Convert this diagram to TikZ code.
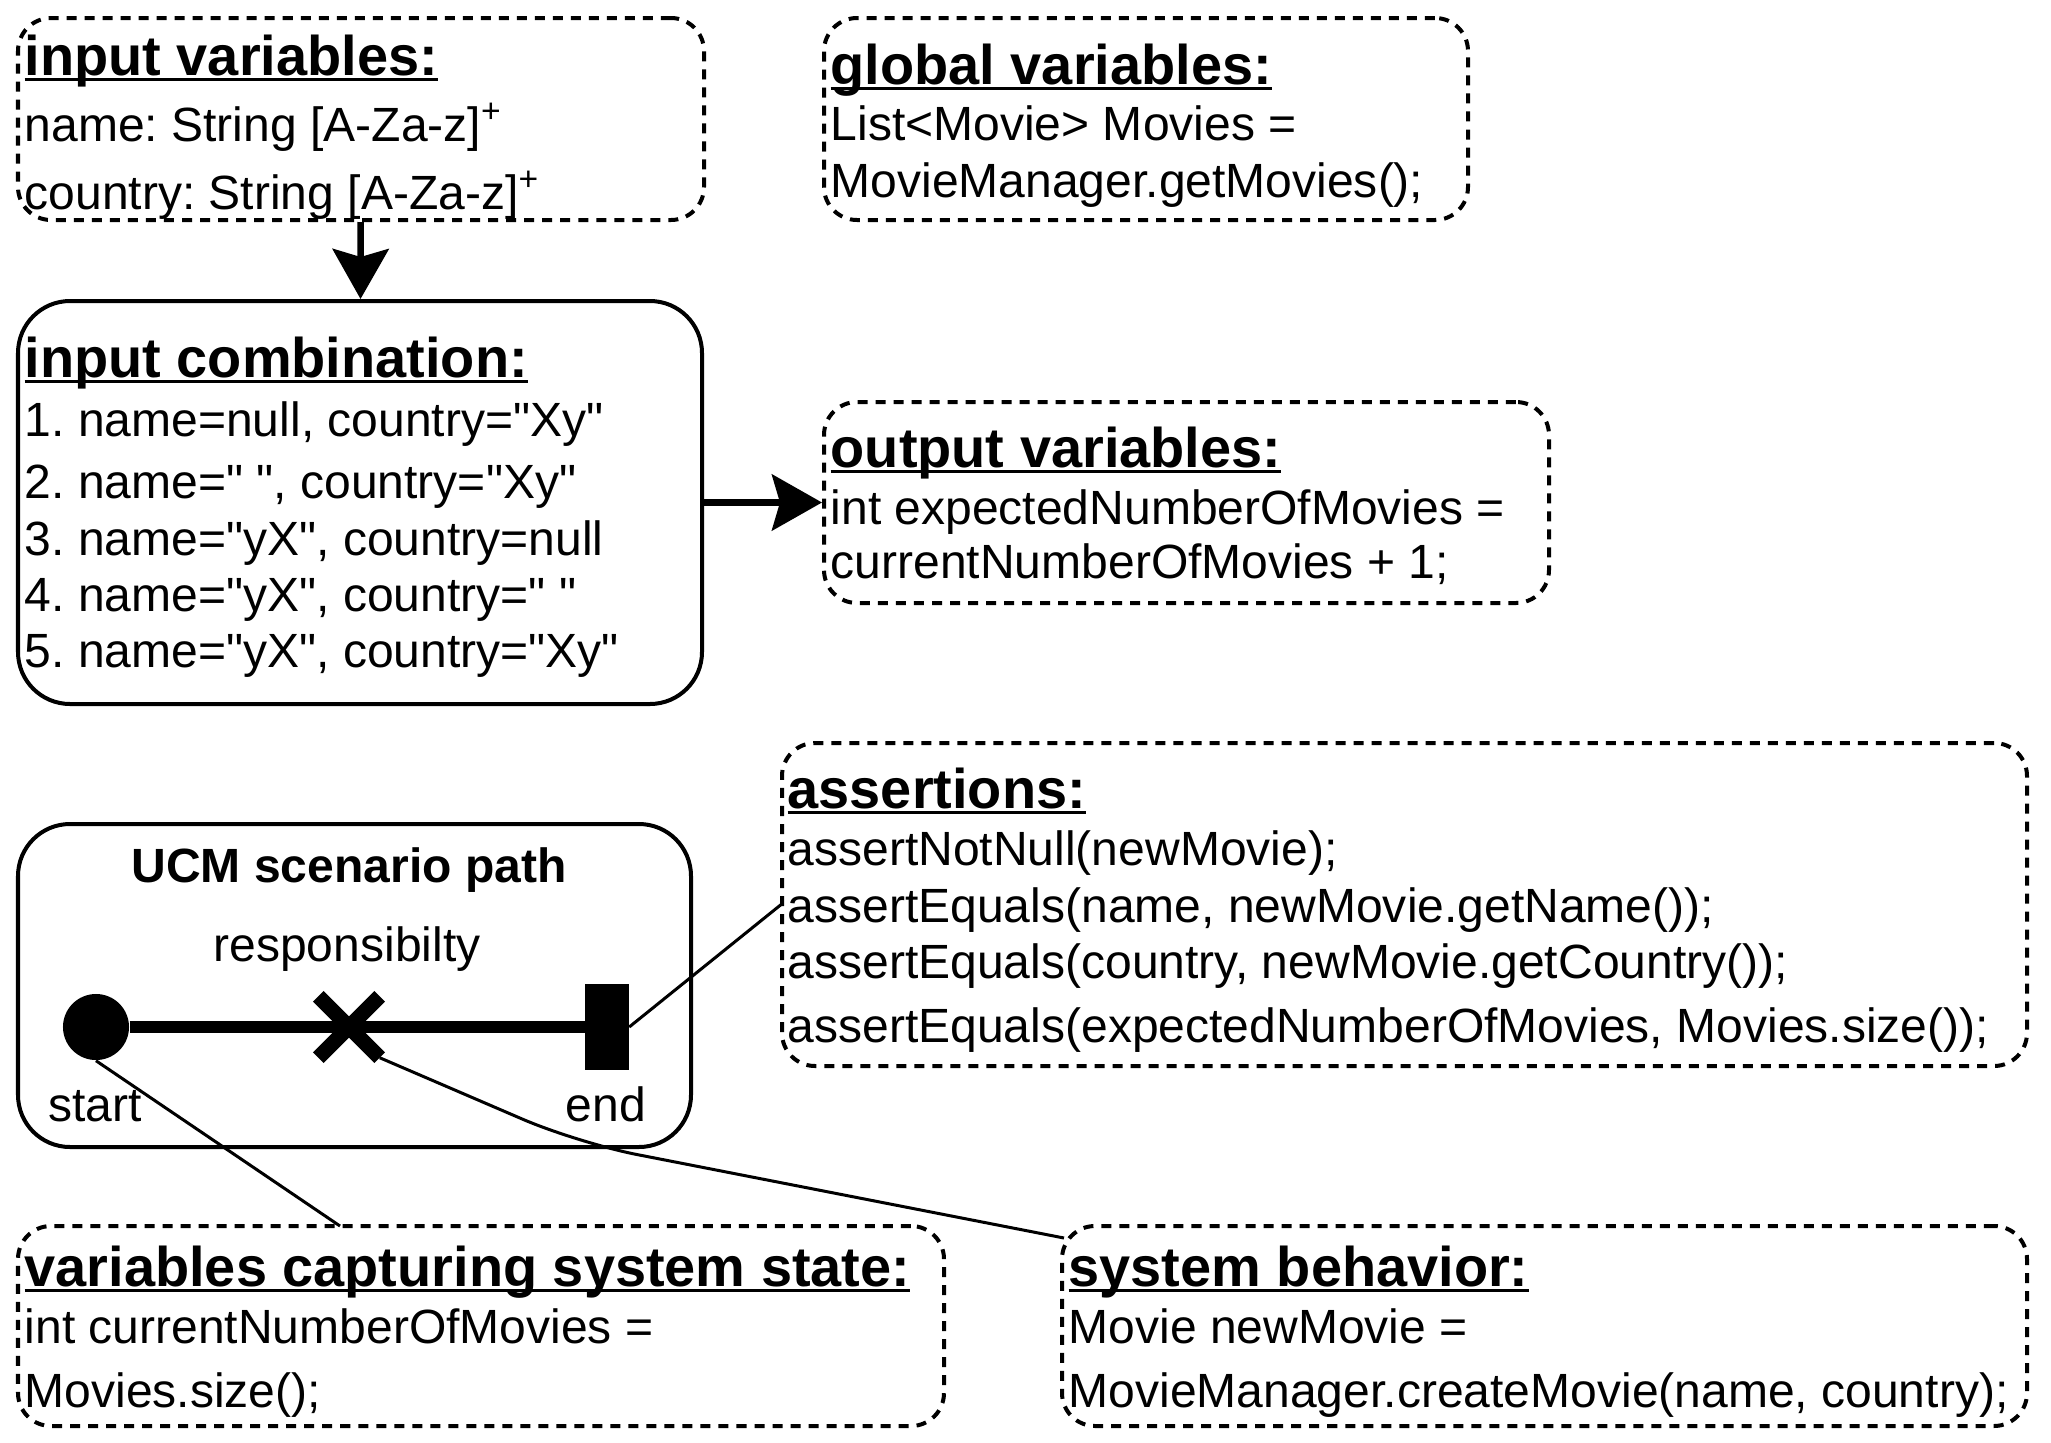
\documentclass[tikz,border=0pt]{standalone}
\usepackage{fontspec}
\setmainfont[Ligatures=TeXOff]{Liberation Sans}
\usetikzlibrary{arrows.meta,positioning,fit}
\newcommand{\bodyfont}{\fontsize{13.66pt}{16pt}\selectfont\frenchspacing}
\newcommand{\headfont}{\fontsize{15.9pt}{18pt}\selectfont\bfseries}
\newsavebox{\hdbox}
\newcommand{\hd}[1]{\sbox{\hdbox}{\headfont #1}\rlap{\rule[-0.13em]{\wd\hdbox}{0.07em}}\usebox{\hdbox}}
\tikzset{
  dbox/.style={draw, line width=0.04cm, dash pattern=on 0.1cm off 0.08cm,
               rounded corners=0.33cm, inner sep=0pt},
  sbox/.style={draw, line width=0.04cm, rounded corners=0.52cm, inner sep=0pt},
  txt/.style={anchor=base west, inner sep=0pt, font=\bodyfont},
  lbl/.style={anchor=base, inner sep=0pt, font=\bodyfont},
  flowarr/.style={-{Stealth[length=0.5cm, width=0.56cm, inset=0.08cm]}, line width=0.065cm},
  link/.style={line width=0.03cm},
  ucmpath/.style={line width=0.12cm},
  startpt/.style={circle, fill, minimum size=0.66cm, inner sep=0pt},
  endpt/.style={fill, minimum width=0.43cm, minimum height=0.85cm, inner sep=0pt},
  respx/.style={minimum size=0.6cm, inner sep=0pt},
  xbar/.style={line width=0.15cm},
}

\begin{document}
\begin{tikzpicture}[x=0.01cm, y=-0.01cm]
  \useasboundingbox (0,0) rectangle (2051,1442);

  % boxes
  \node[dbox, fit={(18,18) (704,220)}] (invars) {};
  \node[dbox, fit={(824,18) (1468,220)}] (globals) {};
  \node[sbox, fit={(18,301) (702,704)}] (combi) {};
  \node[dbox, fit={(824,402) (1549,603)}] (outvars) {};
  \node[dbox, fit={(782,743) (2027,1066)}] (asserts) {};
  \node[sbox, fit={(18,824) (691,1147)}] (ucm) {};
  \node[dbox, fit={(18,1226) (944,1426)}] (sysstate) {};
  \node[dbox, fit={(1062,1226) (2027,1426)}] (sysbeh) {};

  % input variables
  \node[txt] (invarsH) at (24,75) {\hd{input variables:}};
  \node[txt] (invars1) at (24,141) {name: String [A-Za-z]\textsuperscript{+}};
  \node[txt] (invars2) at (24,209) {country: String [A-Za-z]\textsuperscript{+}};

  % global variables
  \node[txt] (globalsH) at (830,84) {\hd{global variables:}};
  \node[txt] (globals1) at (830,140) {List<Movie> Movies =};
  \node[txt] (globals2) at (830,197) {MovieManager.getMovies();};

  % input combination
  \node[txt] (combiH) at (24,377) {\hd{input combination:}};
  \node[txt] (combi1) at (24,436) {1. name=null, country="Xy"};
  \node[txt] (combi2) at (24,498) {2. name=" ", country="Xy"};
  \node[txt] (combi3) at (24,555) {3. name="yX", country=null};
  \node[txt] (combi4) at (24,611) {4. name="yX", country=" "};
  \node[txt] (combi5) at (24,667) {5. name="yX", country="Xy"};

  % output variables
  \node[txt] (outvarsH) at (830,467) {\hd{output variables:}};
  \node[txt] (outvars1) at (830,524) {int expectedNumberOfMovies =};
  \node[txt] (outvars2) at (830,578) {currentNumberOfMovies + 1;};

  % assertions
  \node[txt] (assertsH) at (787,808) {\hd{assertions:}};
  \node[txt] (asserts1) at (787,865) {assertNotNull(newMovie);};
  \node[txt] (asserts2) at (787,922) {assertEquals(name, newMovie.getName());};
  \node[txt] (asserts3) at (787,978) {assertEquals(country, newMovie.getCountry());};
  \node[txt] (asserts4) at (787,1042) {assertEquals(expectedNumberOfMovies, Movies.size());};

  % system state / behavior
  \node[txt] (sysstateH) at (24,1286) {\hd{variables capturing system state:}};
  \node[txt] (sysstate1) at (24,1343) {int currentNumberOfMovies =};
  \node[txt] (sysstate2) at (24,1407) {Movies.size();};
  \node[txt] (sysbehH) at (1068,1286) {\hd{system behavior:}};
  \node[txt] (sysbeh1) at (1068,1343) {Movie newMovie =};
  \node[txt] (sysbeh2) at (1068,1407) {MovieManager.createMovie(name, country);};

  % UCM scenario path
  \node[lbl] (ucmtitle) at (349,882) {\textbf{UCM scenario path}};
  \node[lbl] (resplbl) at (347,961) {responsibilty};
  \node[startpt] (start) at (96,1027) {};
  \node[endpt] (endbar) at (607,1027) {};
  \node[respx] (resp) at (349,1027) {};
  \node[lbl] (startlbl) at (95,1121) {start};
  \node[lbl] (endlbl) at (606,1121) {end};
  \draw[ucmpath] (start) -- (endbar);
  \draw[xbar] (resp.north west) -- (resp.south east)
              (resp.north east) -- (resp.south west);

  % flow arrows
  \draw[flowarr] (invars) -- (combi);
  \draw[flowarr] (combi) -- (outvars);

  % links from the path
  \coordinate (vsin) at (340,1226);
  \coordinate (bend) at (578,1143);
  \coordinate (sbin) at (1064,1238);
  \coordinate (asin) at (783,903);
  \draw[link] (start.south) -- (vsin);
  \draw[link, rounded corners=0.6cm] (resp.south east) -- (bend) -- (sbin);
  \draw[link] (endbar.east) -- (asin);
\end{tikzpicture}
\end{document}
